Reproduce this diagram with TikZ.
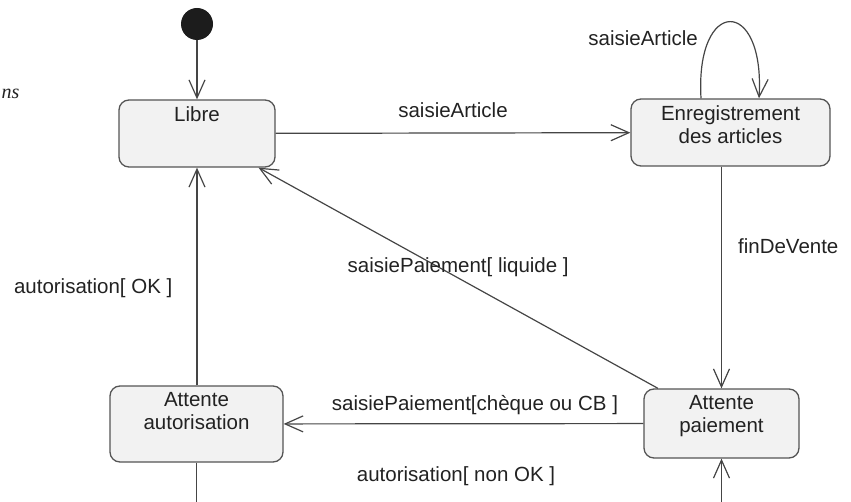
\documentclass[tikz,border=0pt]{standalone}
\usepackage{fontspec}
\setmainfont{Liberation Sans}
\newfontfamily\serifit{Liberation Serif}
\usepackage{xcolor}
\usepackage{tikz}
\usetikzlibrary{positioning,arrows.meta}
\definecolor{linegray}{HTML}{454545}
\definecolor{boxgray}{HTML}{555555}
\definecolor{boxfill}{HTML}{F2F2F2}
\definecolor{txtgray}{HTML}{222222}
\definecolor{dotblack}{HTML}{1C1C1C}

\begin{document}
\begin{tikzpicture}[x=1pt, y=-1pt, every node/.style={font=\fontsize{20.5}{23}\selectfont, text=txtgray},
  state/.style={draw=boxgray, fill=boxfill, rounded corners=10pt, line width=1.3pt, inner sep=0pt},
  stname/.style={align=center, inner sep=0pt},
  lbl/.style={inner sep=0pt, text depth=0pt},
  trans/.style={draw=linegray, line width=1.2pt},
  >={Straight Barb[length=18pt,width=16pt]}]
  \useasboundingbox (0,0) rectangle (851,502);
  \clip (0,0) rectangle (851,502);
  \node[font=\serifit\itshape\fontsize{20}{22}\selectfont, anchor=base west, inner sep=0pt] (frag) at (1.5,99) {ns};
  \node[circle, fill=dotblack, minimum size=32pt, inner sep=0pt] (init) at (197,24) {};
  \node[state, minimum width=156pt, minimum height=67pt] (libre) at (197,133.5) {};
  \node[stname, below=7pt of libre.north] (libre-t) {Libre};
  \node[state, minimum width=199pt, minimum height=67pt] (enr) at (730.5,132.5) {};
  \node[stname, below=7pt of enr.north] (enr-t) {Enregistrement\\ des articles};
  \node[state, minimum width=155pt, minimum height=69pt] (pai) at (721.5,423.5) {};
  \node[stname, below=7pt of pai.north] (pai-t) {Attente\\ paiement};
  \node[state, minimum width=173pt, minimum height=76pt] (aut) at (196.5,424) {};
  \node[stname, below=7pt of aut.north] (aut-t) {Attente\\ autorisation};
  \coordinate (low) at (456,520);
  \draw[trans,->] (init) -- (libre);
  \draw[trans,->] (libre) -- (enr) node[lbl, midway, above=15pt] {saisieArticle};
  \draw[trans,->] ([xshift=-29.5pt]enr.north) .. controls +(-6,-102) and +(6,-102) .. ([xshift=28.5pt]enr.north)
    node[lbl, pos=0.25, anchor=base east, xshift=-10pt, yshift=-5pt] {saisieArticle};
  \draw[trans,->] (enr.south -| pai.north) -- (pai.north)
    node[lbl, midway, anchor=base west, xshift=16pt, yshift=24pt] {finDeVente};
  \draw[trans,->] (pai) -- (libre) node[lbl, midway, anchor=base, yshift=5pt] {saisiePaiement[ liquide ]};
  \draw[trans,->] (pai) -- (aut) node[lbl, midway, above=13pt, xshift=11.5pt] {saisiePaiement[chèque ou CB ]};
  \draw[trans,->] (aut.north -| libre.south) -- (libre.south)
    node[lbl, midway, anchor=base east, xshift=-24pt, yshift=-17.5pt] {autorisation[ OK ]};
  \draw[trans,->] (aut.south) |- (low) node[lbl, anchor=base, yshift=39pt] {autorisation[ non OK ]} -| (pai.south);
\end{tikzpicture}
\end{document}
